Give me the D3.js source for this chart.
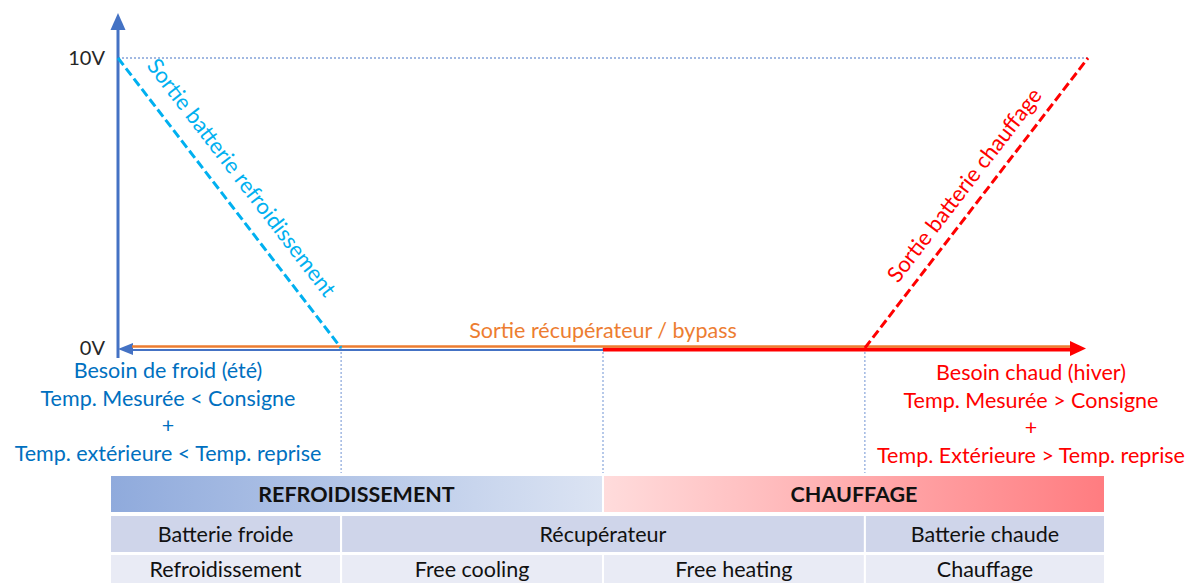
<!DOCTYPE html>
<html>
<head>
<meta charset="utf-8">
<script src="https://cdn.jsdelivr.net/npm/d3@7"></script>
<style>
body{margin:0;background:#fff;}
text{font-family:Lato,"Open Sans",sans-serif;}
</style>
</head>
<body>
<svg id="chart" width="1189" height="583"></svg>
<script>
// valeurs du schema
var tickValues = [0, 10];
var tickLabels = ["0V", "10V"];
var breaks = [0, 23, 50, 77, 100];
var coolingLine = [[0, 10], [23, 0]];
var heatingLine = [[77, 0], [100, 10]];
var modes = [["REFROIDISSEMENT", 0, 50], ["CHAUFFAGE", 50, 100]];
var actuators = [["Batterie froide", 0, 23], ["Récupérateur", 23, 77], ["Batterie chaude", 77, 100]];
var stages = [["Refroidissement", 0, 23], ["Free cooling", 23, 50], ["Free heating", 50, 77], ["Chauffage", 77, 100]];
var coldText = ["Besoin de froid (été)", "Temp. Mesurée < Consigne", "+", "Temp. extérieure < Temp. reprise"];
var hotText = ["Besoin chaud (hiver)", "Temp. Mesurée > Consigne", "+", "Temp. Extérieure > Temp. reprise"];

var svg = d3.select("#chart");
var x = d3.scaleLinear().domain([0, 100]).range([118, 1088]);
var y = d3.scaleLinear().domain([0, 10]).range([348, 58]);
var BLUE = "#4472C4", ORANGE = "#ED7D31", RED = "#FF0000", CYAN = "#00B0F0";
var TL = 110, TR = 1105;

var defs = svg.append("defs");
function grad(id, c1, c2) {
    var g = defs.append("linearGradient").attr("id", id);
    g.append("stop").attr("offset", "0%").attr("stop-color", c1);
    g.append("stop").attr("offset", "100%").attr("stop-color", c2);
}
grad("gcold", "#8FAADC", "#DCE4F3");
grad("ghot", "#FFDCDC", "#FF7C80");

// ligne 10V pointillee
svg.append("line")
    .attr("x1", x(0)).attr("y1", y(10)).attr("x2", x(100)).attr("y2", y(10))
    .attr("stroke", BLUE).attr("stroke-width", 1).attr("stroke-dasharray", "2,2");

// verticales pointillees
svg.selectAll(".vdot").data(breaks.slice(1, 4)).enter().append("line")
    .attr("class", "vdot")
    .attr("x1", function (d) { return x(d); }).attr("x2", function (d) { return x(d); })
    .attr("y1", y(0)).attr("y2", 473)
    .attr("stroke", "#6F93D3").attr("stroke-width", 1).attr("stroke-dasharray", "2,2");

// axe vertical
svg.append("line").attr("x1", x(0)).attr("y1", 28).attr("x2", x(0)).attr("y2", 358)
    .attr("stroke", BLUE).attr("stroke-width", 3);
svg.append("path")
    .attr("d", "M" + x(0) + ",13L" + (x(0) + 7.5) + ",30L" + (x(0) - 7.5) + ",30Z")
    .attr("fill", BLUE);

// axe horizontal : bleu vers la gauche, rouge vers la droite, orange au dessus
svg.append("line").attr("x1", x(0) + 10).attr("y1", y(0) + 2).attr("x2", x(50)).attr("y2", y(0) + 2)
    .attr("stroke", BLUE).attr("stroke-width", 2);
svg.append("path")
    .attr("d", "M" + x(0) + "," + (y(0) + 1) + "L" + (x(0) + 15) + "," + (y(0) - 5) + "L" + (x(0) + 15) + "," + (y(0) + 7) + "Z")
    .attr("fill", BLUE);
svg.append("line").attr("x1", x(50)).attr("y1", y(0) + 1.5).attr("x2", 1072).attr("y2", y(0) + 1.5)
    .attr("stroke", RED).attr("stroke-width", 4);
svg.append("line").attr("x1", x(0) + 14).attr("y1", y(0) - 1.5).attr("x2", 1070).attr("y2", y(0) - 1.5)
    .attr("stroke", ORANGE).attr("stroke-width", 2.5);
svg.append("path")
    .attr("d", "M1086," + (y(0) + 0.5) + "L1070," + (y(0) - 7) + "L1070," + (y(0) + 8) + "Z")
    .attr("fill", RED);

// sorties batteries
var line = d3.line().x(function (d) { return x(d[0]); }).y(function (d) { return y(d[1]); });
svg.append("path").attr("d", line(coolingLine)).attr("fill", "none")
    .attr("stroke", CYAN).attr("stroke-width", 3).attr("stroke-dasharray", "9,4");
svg.append("path").attr("d", line(heatingLine)).attr("fill", "none")
    .attr("stroke", RED).attr("stroke-width", 3).attr("stroke-dasharray", "9,4");

function angle(seg) {
    var dx = x(seg[1][0]) - x(seg[0][0]), dy = y(seg[1][1]) - y(seg[0][1]);
    return Math.atan2(dy, dx) * 180 / Math.PI;
}
var ca = angle(coolingLine);
svg.append("text").text("Sortie batterie refroidissement")
    .attr("transform", "translate(" + (x(0) + 28) + "," + (y(10) + 8) + ") rotate(" + ca + ")")
    .attr("font-size", 22).attr("fill", CYAN);
var ha = angle(heatingLine);
svg.append("text").text("Sortie batterie chauffage")
    .attr("transform", "translate(" + (x(77) + 33) + "," + (y(0) - 64) + ") rotate(" + ha + ")")
    .attr("font-size", 22).attr("fill", RED);

svg.append("text").text("Sortie récupérateur / bypass")
    .attr("x", x(50)).attr("y", y(0) - 10).attr("text-anchor", "middle")
    .attr("font-size", 21.5).attr("fill", ORANGE);

// graduations
svg.selectAll(".tick").data(tickValues).enter().append("text")
    .attr("class", "tick")
    .text(function (d, i) { return tickLabels[i]; })
    .attr("x", 105).attr("y", function (d) { return y(d) + 7; })
    .attr("text-anchor", "end").attr("font-size", 20).attr("fill", "#262626");

// textes besoins
svg.selectAll(".cold").data(coldText).enter().append("text")
    .attr("class", "cold").text(function (d) { return d; })
    .attr("x", 168).attr("y", function (d, i) { return 378 + i * 27.6; })
    .attr("text-anchor", "middle").attr("font-size", 21.5).attr("fill", "#0070C0");
svg.selectAll(".hot").data(hotText).enter().append("text")
    .attr("class", "hot").text(function (d) { return d; })
    .attr("x", 1031).attr("y", function (d, i) { return 380 + i * 27.6; })
    .attr("text-anchor", "middle").attr("font-size", 21.5).attr("fill", RED);

// tableau
function cx0(d) { return d[1] == 0 ? TL : x(d[1]); }
function cx1(d) { return d[2] == 100 ? TR : x(d[2]); }
function row(data, cls, y0, h, fill, bold, dy) {
    var g = svg.selectAll("." + cls).data(data).enter().append("g").attr("class", cls);
    g.append("rect")
        .attr("x", function (d) { return cx0(d); }).attr("y", y0)
        .attr("width", function (d) { return cx1(d) - cx0(d); }).attr("height", h)
        .attr("fill", fill).attr("stroke", "#fff").attr("stroke-width", 2);
    g.append("text").text(function (d) { return d[0]; })
        .attr("x", function (d) { return (cx0(d) + cx1(d)) / 2; })
        .attr("y", y0 + h / 2 + dy)
        .attr("text-anchor", "middle").attr("font-size", bold ? 21.5 : 21.5)
        .attr("font-weight", bold ? "bold" : "normal").attr("fill", "#111");
}
row(modes, "mode", 475, 38, function (d, i) { return i == 0 ? "url(#gcold)" : "url(#ghot)"; }, true, 8);
row(actuators, "act", 515, 38, "#CFD5EA", false, 8);
row(stages, "stage", 554, 40, "#E9EBF5", false, 3);
</script>
</body>
</html>
